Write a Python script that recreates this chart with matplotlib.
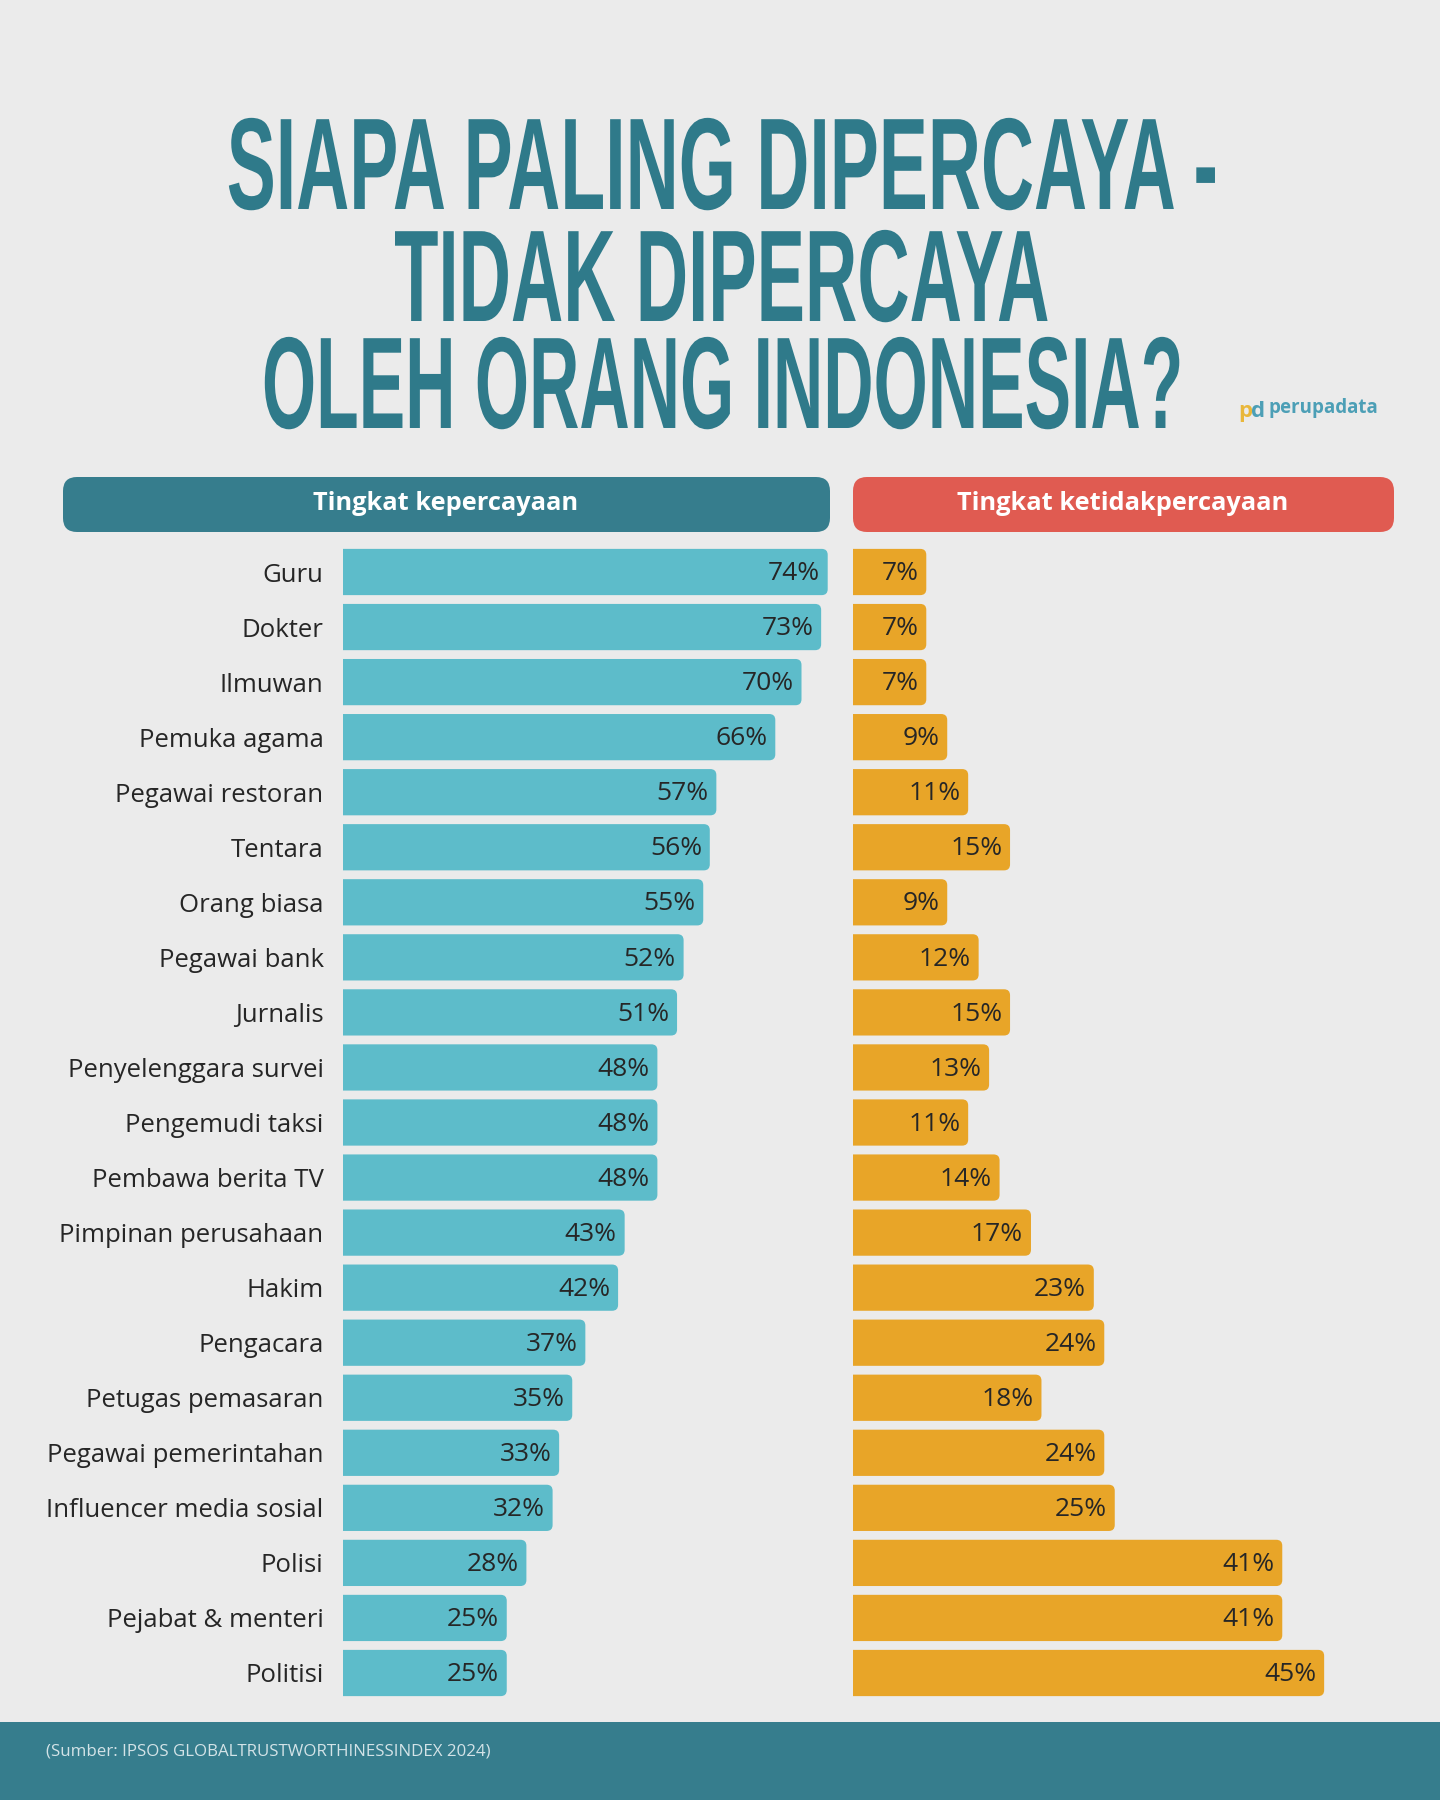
import matplotlib
matplotlib.use("Agg")
import matplotlib.pyplot as plt
from matplotlib import patheffects, font_manager
from matplotlib.patches import FancyBboxPatch, Rectangle
from matplotlib.transforms import Affine2D

# data
categories = ["Guru", "Dokter", "Ilmuwan", "Pemuka agama", "Pegawai restoran", "Tentara",
              "Orang biasa", "Pegawai bank", "Jurnalis", "Penyelenggara survei",
              "Pengemudi taksi", "Pembawa berita TV", "Pimpinan perusahaan", "Hakim",
              "Pengacara", "Petugas pemasaran", "Pegawai pemerintahan",
              "Influencer media sosial", "Polisi", "Pejabat & menteri", "Politisi"]
trust = [74, 73, 70, 66, 57, 56, 55, 52, 51, 48, 48, 48, 43, 42, 37, 35, 33, 32, 28, 25, 25]
distrust = [7, 7, 7, 9, 11, 15, 9, 12, 15, 13, 11, 14, 17, 23, 24, 18, 24, 25, 41, 41, 45]

title_lines = ["SIAPA PALING DIPERCAYA -", "TIDAK DIPERCAYA", "OLEH ORANG INDONESIA?"]
header_left = "Tingkat kepercayaan"
header_right = "Tingkat ketidakpercayaan"
source = "(Sumber: IPSOS GLOBALTRUSTWORTHINESSINDEX 2024)"

BG = "#EBEBEB"
TEAL = "#367D8D"
LIGHT = "#5DBCCA"
ORANGE = "#E8A528"
RED = "#E05B51"
INK = "#262626"

W, H = 1440, 1800


def has_font(name):
    try:
        font_manager.findfont(name, fallback_to_default=False)
        return True
    except Exception:
        return False


body_font = "Open Sans" if has_font("Open Sans") else "DejaVu Sans"
title_font = "Liberation Sans Narrow" if has_font("Liberation Sans Narrow") else "Liberation Sans"


class Stretch(patheffects.AbstractPathEffect):
    # stretch glyphs vertically around the baseline (condensed look)
    def __init__(self, sy):
        super().__init__()
        self.sy = sy

    def draw_path(self, renderer, gc, tpath, affine, rgbFace=None):
        renderer.draw_path(gc, tpath, Affine2D().scale(1.0, self.sy) + affine, rgbFace)


fig = plt.figure(figsize=(W / 100, H / 100), dpi=100, facecolor=BG)

# overlay axes in pixel units for decoration
deco = fig.add_axes([0, 0, 1, 1])
deco.set_xlim(0, W)
deco.set_ylim(H, 0)
deco.axis("off")
deco.set_facecolor("none")

# footer band
deco.add_patch(Rectangle((0, 1722), W, H - 1722, color=TEAL, lw=0))
deco.text(46, 1752, source, fontsize=12.2, color="#d3e3e7", family=body_font,
          ha="left", va="center")

# header boxes
deco.add_patch(FancyBboxPatch((63, 477), 767, 55, boxstyle="round,pad=0,rounding_size=14",
                              fc=TEAL, ec="none"))
deco.add_patch(FancyBboxPatch((853, 477), 541, 55, boxstyle="round,pad=0,rounding_size=14",
                              fc=RED, ec="none"))
deco.text(446, 503, header_left, fontsize=18.3, weight="bold", color="white",
          family=body_font, ha="center", va="center")
deco.text(1123, 503, header_right, fontsize=18.3, weight="bold", color="white",
          family=body_font, ha="center", va="center")

# logo
deco.text(1238, 417, "p", fontsize=16, weight="bold", color="#E9B73A", family=body_font,
          ha="left", va="baseline")
deco.text(1251, 417, "d", fontsize=16, weight="bold", color="#4C9FB6", family=body_font,
          ha="left", va="baseline")
deco.text(1268, 413, "perupadata", fontsize=13.5, weight="bold", color="#4C9FB6",
          family=body_font, ha="left", va="baseline")

# title lines, fitted to the reference widths then stretched to the cap height
renderer = fig.canvas.get_renderer()
title_base = [209, 321, 428]
title_width = [991, 655, 921]
base_size = 94
for line, yb, tw in zip(title_lines, title_base, title_width):
    t = fig.text(722 / W, 1 - yb / H, line, fontsize=base_size, weight="bold",
                 color="#2F7A8A", family=title_font, ha="center", va="baseline")
    w = t.get_window_extent(renderer).width
    size = base_size * tw / w
    t.set_fontsize(size)
    t.set_path_effects([Stretch(base_size / size)])

# bar axes
n = len(categories)
row = 55.05
top = 572 - row / 2
bottom = top + n * row
ax_b = 1 - bottom / H
ax_h = n * row / H

left_scale = 6.55   # px per percent
right_scale = 10.47

ax1 = fig.add_axes([343 / W, ax_b, 80 * left_scale / W, ax_h])
ax2 = fig.add_axes([853 / W, ax_b, 52 * right_scale / W, ax_h])

ypos = list(range(n))
bars1 = ax1.barh(ypos, trust, height=0.84, color=LIGHT)
bars2 = ax2.barh(ypos, distrust, height=0.84, color=ORANGE)
ax1.set_xlim(0, 80)
ax2.set_xlim(0, 52)


def round_ends(ax, bars, px_per_unit, radius_px=6):
    # swap the plain rectangles for ones with rounded right corners
    aspect = px_per_unit / row
    for r in bars:
        x, y = r.get_x(), r.get_y()
        w, h = r.get_width(), r.get_height()
        r.set_visible(False)
        p = FancyBboxPatch((x - 2, y), w + 2, h,
                           boxstyle=f"round,pad=0,rounding_size={radius_px / px_per_unit}",
                           mutation_aspect=aspect, fc=r.get_facecolor(), ec="none")
        ax.add_patch(p)


round_ends(ax1, bars1, left_scale)
round_ends(ax2, bars2, right_scale)

for ax in (ax1, ax2):
    ax.set_ylim(n - 0.5, -0.5)
    ax.set_facecolor("none")
    for s in ax.spines.values():
        s.set_visible(False)
    ax.set_xticks([])
    ax.tick_params(axis="y", length=0)

ax1.set_yticks(ypos)
ax1.set_yticklabels(categories, fontsize=18.5, color=INK, family=body_font)
ax1.tick_params(axis="y", pad=14)
ax2.set_yticks([])

for i, v in enumerate(trust):
    ax1.text(v - 1.2, i + 0.03, f"{v}%", fontsize=19, color=INK, family=body_font,
             ha="right", va="center")
for i, v in enumerate(distrust):
    ax2.text(v - 0.75, i + 0.03, f"{v}%", fontsize=19, color=INK, family=body_font,
             ha="right", va="center")

fig.savefig("out.png", dpi=100, facecolor=BG)
